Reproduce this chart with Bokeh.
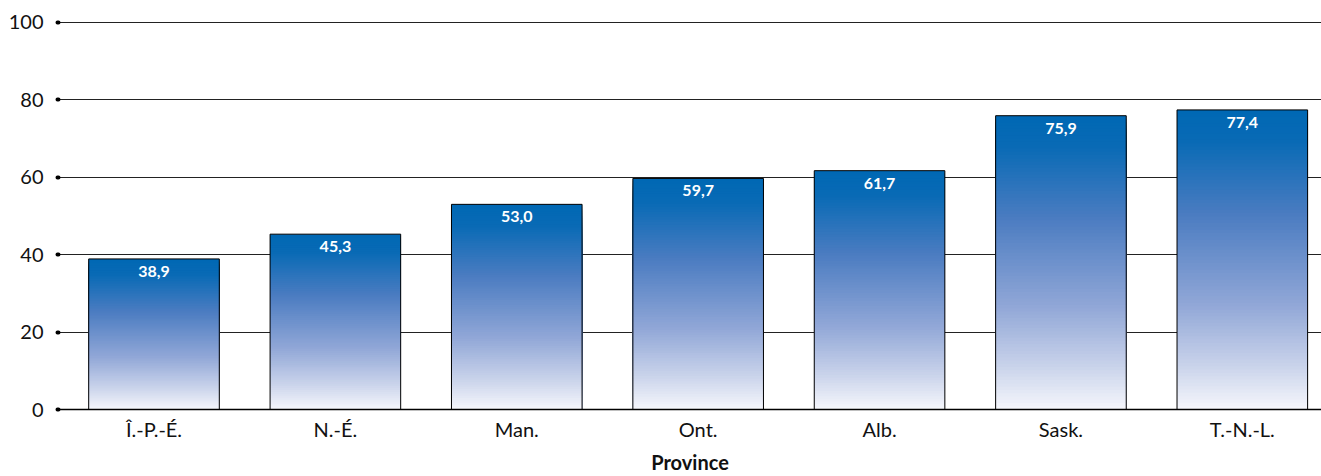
from bokeh.plotting import figure
from bokeh.models import Range1d, FixedTicker, ColumnDataSource
from bokeh.core.properties import value
from bokeh.embed import file_html
from bokeh.resources import INLINE

provinces = ["Î.-P.-É.", "N.-É.", "Man.", "Ont.", "Alb.", "Sask.", "T.-N.-L."]
values = [38.9, 45.3, 53.0, 59.7, 61.7, 75.9, 77.4]
labels = ["38,9", "45,3", "53,0", "59,7", "61,7", "75,9", "77,4"]
y_ticks = [0, 20, 40, 60, 80, 100]
x_title = "Province"

FONT = "Lato"
BAR_W = 0.72
X_START, X_END = -0.5265, 6.4365
Y_MAX = 100.5

# gradient stops (fraction from top of bar -> rgb)
stops = [(0.0, (0, 104, 180)), (0.1, (8, 106, 181)), (0.35, (75, 124, 193)),
         (0.65, (145, 167, 215)), (0.85, (200, 210, 234)), (1.0, (246, 247, 252))]

def grad(f):
    for (f0, c0), (f1, c1) in zip(stops[:-1], stops[1:]):
        if f0 <= f <= f1:
            t = (f - f0) / (f1 - f0)
            return "#%02x%02x%02x" % tuple(int(round(a + (b - a) * t)) for a, b in zip(c0, c1))
    return "#%02x%02x%02x" % stops[-1][1]

p = figure(width=1321, height=476, output_backend="svg", toolbar_location=None,
           x_range=Range1d(X_START, X_END), y_range=Range1d(0, Y_MAX),
           min_border_left=58, min_border_right=0, min_border_top=20, min_border_bottom=67)
p.outline_line_color = None
p.background_fill_color = "white"

# gradient: overlapping quads from the bar base up to each slice top, tallest first
N = 90
L, R, B, T, C = [], [], [], [], []
for i, v in enumerate(values):
    for k in range(N):
        top = v * (1 - k / N)
        L.append(i - BAR_W / 2); R.append(i + BAR_W / 2)
        T.append(top); B.append(0)
        C.append(grad((k + 0.5) / N))
p.quad(left=L, right=R, top=T, bottom=B, fill_color=C, line_color=None)

xs = list(range(len(values)))
p.quad(left=[x - BAR_W / 2 for x in xs], right=[x + BAR_W / 2 for x in xs],
       top=values, bottom=[0] * len(values), fill_alpha=0, line_color="black", line_width=1)

src = ColumnDataSource(dict(x=xs, y=values, t=labels))
p.text(x="x", y="y", text="t", source=src, text_align="center", text_baseline="top",
       y_offset=7, text_color="white", text_font=value(FONT), text_font_style="bold",
       text_font_size="16px")

p.xgrid.visible = False
p.ygrid.grid_line_color = "#222222"
p.ygrid.grid_line_width = 1
p.yaxis.ticker = FixedTicker(ticks=y_ticks)
p.yaxis.axis_line_color = None
p.yaxis.major_tick_line_color = "black"
p.yaxis.major_tick_line_width = 4
p.yaxis.major_tick_line_cap = "round"
p.yaxis.major_tick_in = 0
p.yaxis.major_tick_out = 1
p.yaxis.minor_tick_line_color = None
p.yaxis.major_label_standoff = 14
p.yaxis.major_label_text_font = FONT
p.yaxis.major_label_text_font_size = "20px"
p.yaxis.major_label_text_color = "#111111"

p.xaxis.ticker = FixedTicker(ticks=xs)
p.xaxis.major_label_overrides = {i: n for i, n in enumerate(provinces)}
p.xaxis.axis_line_color = "black"
p.xaxis.axis_line_width = 1.5
p.xaxis.major_tick_line_color = None
p.xaxis.major_tick_in = 0
p.xaxis.major_tick_out = 0
p.xaxis.minor_tick_line_color = None
p.xaxis.major_label_standoff = 7
p.xaxis.major_label_text_font = FONT
p.xaxis.major_label_text_font_size = "20px"
p.xaxis.major_label_text_color = "#111111"
p.xaxis.axis_label = x_title
p.xaxis.axis_label_text_font = FONT
p.xaxis.axis_label_text_font_style = "bold"
p.xaxis.axis_label_text_font_size = "20px"
p.xaxis.axis_label_standoff = 6
p.xaxis.axis_label_text_color = "#111111"

open("out.html", "w").write(file_html(p, INLINE))
